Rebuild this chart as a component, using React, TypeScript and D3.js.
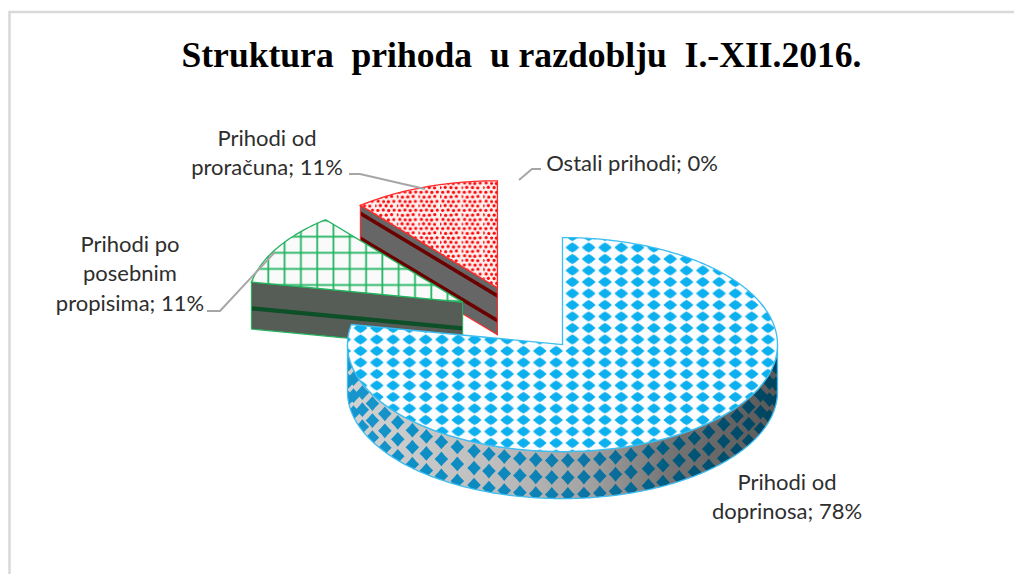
import * as d3 from "d3";

const categories = ["Prihodi od doprinosa", "Prihodi po posebnim propisima", "Prihodi od proračuna", "Ostali prihodi"];
const values = [78, 11, 11, 0];
const titleText = "Struktura  prihoda  u razdoblju  I.-XII.2016.";

const labelLines = [
    ["Prihodi od", "doprinosa; 78%"],
    ["Prihodi po", "posebnim", "propisima; 11%"],
    ["Prihodi od", "proračuna; 11%"],
    ["Ostali prihodi; 0%"],
];
const labelAnchors = [
    { x: 787, y: 490 },
    { x: 130, y: 252 },
    { x: 267, y: 146 },
    { x: 632, y: 171 },
];
const leaders: [number, number][][] = [
    [],
    [[207, 311], [220, 311], [275, 252]],
    [[349, 174], [360, 174], [425, 189]],
    [[541, 169], [532, 169], [519, 180]],
];

const WIDTH = 1014;
const HEIGHT = 574;
const center = { x: 520, y: 319 };
const rx = 215;
const ry = 107;
const depth = 47;
const explode = 0.31;
const TAU = Math.PI * 2;

const tops = ["url(#blueTop)", "url(#greenTop)", "url(#redTop)", "none"];
const strokes = ["#3cbdf0", "#25b35f", "#ff2a2a", "none"];

type Pt = [number, number];

const slices = d3.pie<number>().sort(null).value((d) => d)(values);

function bisector(s: { startAngle: number; endAngle: number }) {
    return (s.startAngle + s.endAngle) / 2;
}

// slice apex after the explosion
function apex(s: { startAngle: number; endAngle: number }) {
    const m = bisector(s);
    return {
        x: center.x + rx * explode * Math.sin(m),
        y: center.y - ry * explode * Math.cos(m),
    };
}

function rim(c: { x: number; y: number }, a: number, dy = 0): Pt {
    return [c.x + rx * Math.sin(a), c.y - ry * Math.cos(a) + dy];
}

function arcPoints(c: { x: number; y: number }, a0: number, a1: number, dy = 0): Pt[] {
    const n = Math.max(2, Math.ceil(Math.abs(a1 - a0) * 80));
    return d3.range(n + 1).map((i) => rim(c, a0 + ((a1 - a0) * i) / n, dy));
}

const line = d3.line<Pt>();

// side wall of the drum, front half only
function sidePath(s: { startAngle: number; endAngle: number }) {
    const c = apex(s);
    const a0 = Math.max(s.startAngle, TAU / 4);
    const a1 = Math.min(s.endAngle, (3 * TAU) / 4);
    if (a1 <= a0) return null;
    return line([...arcPoints(c, a0, a1), ...arcPoints(c, a1, a0, depth)]) + "Z";
}

function topPath(s: { startAngle: number; endAngle: number }) {
    const c = apex(s);
    return line([[c.x, c.y], ...arcPoints(c, s.startAngle, s.endAngle)]) + "Z";
}

function facePoints(s: { startAngle: number }, f0: number, f1: number, c: { x: number; y: number }): Pt[] {
    const p = rim(c, s.startAngle);
    return [
        [p[0], p[1] + depth * f0],
        [c.x, c.y + depth * f0],
        [c.x, c.y + depth * f1],
        [p[0], p[1] + depth * f1],
    ];
}

// diamonds on the wall follow the rim, so the lattice shears with the curve
function wallDiamonds(s: { startAngle: number; endAngle: number }) {
    const c = apex(s);
    const pts = arcPoints(c, TAU / 4, (3 * TAU) / 4);
    const out: Pt[] = [];
    let acc = 0;
    let next = 13;
    d3.range(pts.length - 1).forEach((i) => {
        const [a, b] = [pts[i], pts[i + 1]];
        if (acc >= next) {
            [9, 26, 43, 60].forEach((dy) => out.push([a[0], a[1] + dy]));
            next += 16;
        }
        acc += Math.hypot(b[0] - a[0], b[1] - a[1]);
    });
    return out;
}

const dotCells: Pt[] = [
    [2.7, 2.2], [8.1, 1.8], [0.2, 6.6], [5.6, 7.1],
    [13.5, 2.4], [18.9, 2], [11, 6.9], [16.4, 6.4],
    [3, 11.2], [8.4, 11.6], [0, 15.9], [5.2, 15.6],
    [13.2, 11.7], [18.6, 11.3], [10.9, 15.8], [16.2, 16.1],
];

export default function App() {
    const main = slices[0];
    const drawOrder = [2, 1, 0];
    const mainSide = sidePath(main);

    return (
        <svg
            width={WIDTH}
            height={HEIGHT}
            style={{ position: "absolute", left: 0, top: 0, display: "block", background: "#fff" }}
        >
            <defs>
                <pattern id="blueTop" patternUnits="userSpaceOnUse" width={16.3} height={11.5} x={605 - 8.15} y={282 - 5.75}>
                    <rect width={16.3} height={11.5} fill="#fbfcfe" />
                    <path d="M8.15 0.6 L11.4 2.7 L15 5.75 L11.4 8.8 L8.15 10.9 L4.9 8.8 L1.3 5.75 L4.9 2.7Z" fill="#0bb0ee" />
                </pattern>
                <pattern id="greenTop" patternUnits="userSpaceOnUse" width={16.3} height={16.1} x={268.3 - 8} y={236.7 - 8}>
                    <rect width={16.3} height={16.1} fill="#fafafa" />
                    <rect x={7.1} width={1.8} height={16.1} fill="#22b562" />
                    <rect y={7.1} width={16.3} height={1.8} fill="#22b562" />
                </pattern>
                <pattern id="redTop" patternUnits="userSpaceOnUse" width={21.6} height={18.2} x={440} y={190}>
                    <rect width={21.6} height={18.2} fill="#fff0f0" />
                    {dotCells.map(([x, y], i) => (
                        <circle key={i} cx={x} cy={y} r={1.6} fill="#fb0707" />
                    ))}
                </pattern>
                <linearGradient id="wallGrey" gradientUnits="userSpaceOnUse" x1={348} x2={778} y1={0} y2={0}>
                    <stop offset="0" stopColor="#d2d2d2" />
                    <stop offset="0.35" stopColor="#bdbdbd" />
                    <stop offset="0.55" stopColor="#a4a4a4" />
                    <stop offset="0.75" stopColor="#747474" />
                    <stop offset="1" stopColor="#585858" />
                </linearGradient>
                <linearGradient id="wallBlue" gradientUnits="userSpaceOnUse" x1={348} x2={778} y1={0} y2={0}>
                    <stop offset="0" stopColor="#1496cd" />
                    <stop offset="0.4" stopColor="#0a86bb" />
                    <stop offset="0.6" stopColor="#07709e" />
                    <stop offset="0.8" stopColor="#055475" />
                    <stop offset="1" stopColor="#04435f" />
                </linearGradient>
                <clipPath id="wallClip">{mainSide && <path d={mainSide} />}</clipPath>
                <filter id="soft" x="-5%" y="-5%" width="110%" height="110%">
                    <feGaussianBlur stdDeviation={0.45} />
                </filter>
            </defs>

            {/* chart frame */}
            <path d="M9.5 574V12H1014" fill="none" stroke="#d9d9d9" strokeWidth={2.5} />

            <text
                x={521.5}
                y={67}
                textAnchor="middle"
                xmlSpace="preserve"
                fontFamily="Liberation Serif"
                fontWeight="bold"
                fontSize={35.6}
                fill="#000"
                style={{ whiteSpace: "pre" }}
            >
                {titleText}
            </text>

            <g filter="url(#soft)">
                {drawOrder.map((i) => {
                    const s = slices[i];
                    const c = apex(s);
                    const side = sidePath(s);
                    const showFace = s.startAngle > (3 * TAU) / 4;
                    return (
                        <g key={categories[i]}>
                            {showFace && (
                                <g>
                                    <path d={line(facePoints(s, 0, 1, c)) + "Z"} fill={i === 2 ? "#666666" : "#565c57"} />
                                    {(i === 2 ? [0.17, 0.7] : [0.56]).map((f) => (
                                        <path
                                            key={f}
                                            d={line(facePoints(s, f - 0.045, f + 0.045, c)) + "Z"}
                                            fill={i === 2 ? "#6b0404" : "#0a4f26"}
                                        />
                                    ))}
                                    <path d={line(facePoints(s, 0, 1, c)) + "Z"} fill="none" stroke={strokes[i]} strokeWidth={1.1} />
                                </g>
                            )}
                            {side && (
                                <g>
                                    <path d={side} fill="url(#wallGrey)" />
                                    <g clipPath="url(#wallClip)">
                                        {wallDiamonds(s).map(([x, y], k) => (
                                            <path
                                                key={k}
                                                d={`M${x} ${y - 7.4}L${x + 3.3} ${y - 3.5}L${x + 6.8} ${y}L${x + 3.3} ${y + 3.5}L${x} ${y + 7.4}L${x - 3.3} ${y + 3.5}L${x - 6.8} ${y}L${x - 3.3} ${y - 3.5}Z`}
                                                fill="url(#wallBlue)"
                                            />
                                        ))}
                                    </g>
                                    <path d={side} fill="none" stroke={strokes[i]} strokeWidth={1.3} />
                                </g>
                            )}
                            <path d={topPath(s)} fill={tops[i]} stroke={strokes[i]} strokeWidth={1.3} />
                        </g>
                    );
                })}
            </g>

            {leaders.map((pts, i) =>
                pts.length ? <path key={i} d={line(pts) ?? ""} fill="none" stroke="#a6a6a6" strokeWidth={2} /> : null
            )}

            {labelLines.map((lines, i) => (
                <text
                    key={categories[i]}
                    textAnchor="middle"
                    fontFamily="Lato"
                    fontSize={22}
                    fill="#2e2e2e"
                >
                    {lines.map((t, k) => (
                        <tspan key={k} x={labelAnchors[i].x} y={labelAnchors[i].y + k * 29.3}>
                            {t}
                        </tspan>
                    ))}
                </text>
            ))}
        </svg>
    );
}
